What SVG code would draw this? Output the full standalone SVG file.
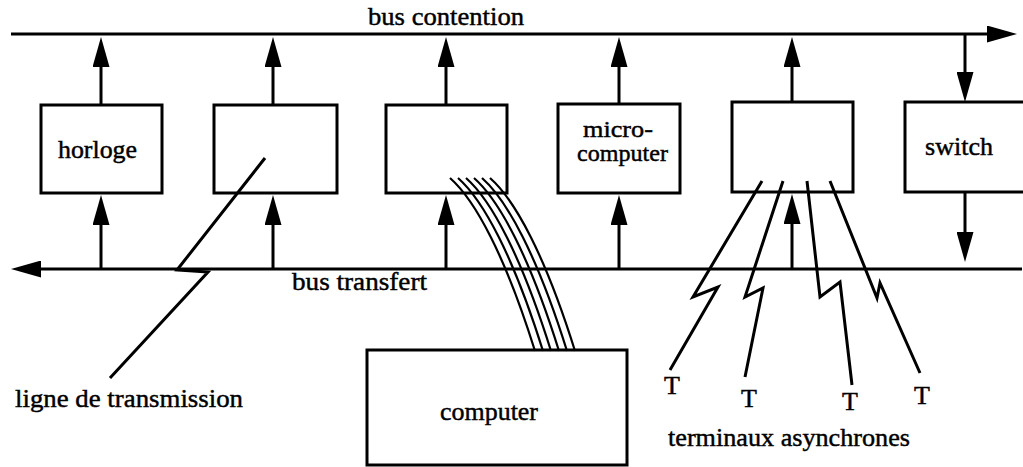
<svg xmlns="http://www.w3.org/2000/svg" xmlns:xlink="http://www.w3.org/1999/xlink" width="1023" height="467" viewBox="0 0 1023 467">
  <style>
    .box { fill: #fff; stroke: #000; stroke-width: 3; }
    .ln { fill: none; stroke: #000; stroke-width: 3; }
    .arr { fill: none; stroke: #000; stroke-width: 3; marker-end: url(#ah); }
    .wire { fill: none; stroke: #000; stroke-width: 2.2; }
    text { fill: #000; stroke: #000; stroke-width: 0.45; }
  </style>
  <defs>
    <marker id="ah" markerUnits="userSpaceOnUse" markerWidth="30" markerHeight="17" viewBox="0 0 30 17" refX="20" refY="8.5" orient="auto">
      <path d="M0,0 L30,8.5 L0,17 Z" fill="#000" stroke="none"/>
    </marker>
    <path id="wire" d="M450,178 C475,200 505,255 535,351"/>
  </defs>

  <rect width="1023" height="467" fill="#fff"/>

  <g font-family="Liberation Serif, Times New Roman, Times, serif" font-size="26">
  <g id="horloge">
    <rect class="box" x="41" y="105" width="121" height="88"/>
    <text x="58" y="158" textLength="79" lengthAdjust="spacingAndGlyphs">horloge</text>
  </g>
  <g id="unit2">
    <rect class="box" x="214" y="105" width="123" height="88"/>
  </g>
  <g id="unit3">
    <rect class="box" x="386" y="105" width="121" height="88"/>
  </g>
  <g id="microcomputer">
    <rect class="box" x="558" y="104" width="122" height="89"/>
    <text x="583" y="137" font-size="24" textLength="70" lengthAdjust="spacingAndGlyphs">micro-</text>
    <text x="577" y="161" font-size="24" textLength="91" lengthAdjust="spacingAndGlyphs">computer</text>
  </g>
  <g id="unit5">
    <rect class="box" x="732" y="102" width="121" height="90"/>
  </g>
  <g id="switch">
    <rect class="box" x="905" y="102" width="130" height="90"/>
    <text x="925" y="155" textLength="68" lengthAdjust="spacingAndGlyphs">switch</text>
  </g>
  <g id="computer">
    <rect class="box" x="367" y="350" width="260" height="115"/>
    <text x="440" y="420" textLength="98" lengthAdjust="spacingAndGlyphs">computer</text>
  </g>

  <!-- connectors: buses, arrows, lines and cables -->
  <g id="connectors">
    <path class="arr" d="M11,34 H1007"/>
    <path class="arr" d="M1022,269 H21"/>

    <!-- up to bus contention -->
    <path class="arr" d="M101,105 V47"/>
    <path class="arr" d="M273,105 V47"/>
    <path class="arr" d="M446,105 V47"/>
    <path class="arr" d="M619,104 V47"/>
    <path class="arr" d="M792,102 V47"/>

    <!-- from bus transfert up into the units -->
    <path class="arr" d="M101,269 V205"/>
    <path class="arr" d="M273,269 V205"/>
    <path class="arr" d="M446,269 V205"/>
    <path class="arr" d="M619,269 V205"/>
    <path class="arr" d="M792,269 V204"/>

    <!-- switch -->
    <path class="arr" d="M965,34 V92"/>
    <path class="arr" d="M965,192 V252"/>

    <!-- ligne de transmission -->
    <path class="ln" d="M265,158 L177,270 L208,272 L110,378"/>

    <!-- asynchronous terminal links -->
    <polyline class="ln" points="762,181 693,297 718,287 670,370"/>
    <polyline class="ln" points="783,181 745,297 763,288 745,377"/>
    <polyline class="ln" points="807,181 820,297 840,282 852,385"/>
    <polyline class="ln" points="830,181 877,298 880,283 920,373"/>

    <!-- cable bundle to the computer -->
    <g class="wire">
      <use xlink:href="#wire"/>
      <use xlink:href="#wire" transform="translate(8,0)"/>
      <use xlink:href="#wire" transform="translate(16,0)"/>
      <use xlink:href="#wire" transform="translate(24,0)"/>
      <use xlink:href="#wire" transform="translate(32,0)"/>
      <use xlink:href="#wire" transform="translate(40,0)"/>
    </g>
  </g>

  <g id="labels">
    <text x="368" y="25" textLength="156" lengthAdjust="spacingAndGlyphs">bus contention</text>
    <text x="292" y="290" textLength="135" lengthAdjust="spacingAndGlyphs">bus transfert</text>
    <text x="15" y="407" textLength="228" lengthAdjust="spacingAndGlyphs">ligne de transmission</text>
    <text x="668" y="446" textLength="242" lengthAdjust="spacingAndGlyphs">terminaux asynchrones</text>
    <text x="672" y="394" text-anchor="middle">T</text>
    <text x="749" y="407" text-anchor="middle">T</text>
    <text x="850" y="410" text-anchor="middle">T</text>
    <text x="922" y="404" text-anchor="middle">T</text>
  </g>
  </g>
</svg>
